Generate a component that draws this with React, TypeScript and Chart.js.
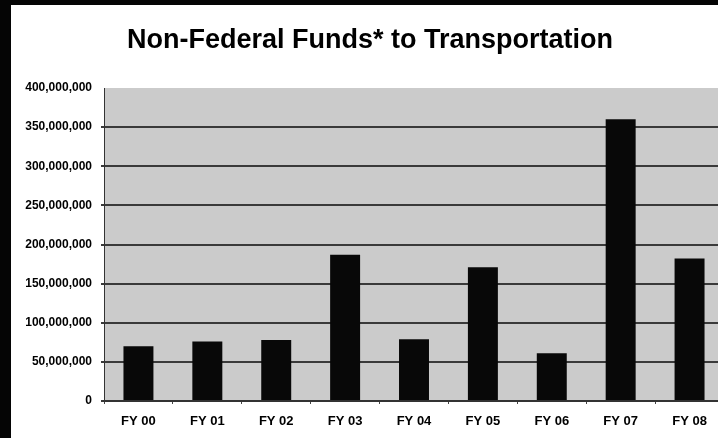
import React, { useEffect, useRef } from "react";
import { Chart, registerables } from "chart.js";

Chart.register(...registerables);

const categories = ["FY 00", "FY 01", "FY 02", "FY 03", "FY 04", "FY 05", "FY 06", "FY 07", "FY 08"];
const fundValues = [70000000, 76000000, 78000000, 187000000, 79000000, 171000000, 61000000, 360000000, 182000000];
const yMin = 0;
const yMax = 400000000;
const yStep = 50000000;
const titleText = "Non-Federal Funds* to Transportation";

const CANVAS_W = 740;
const CANVAS_H = 438;

const framePlugin = {
  id: "frame",
  beforeDraw(chart: any) {
    const { ctx, chartArea } = chart;
    ctx.save();
    ctx.fillStyle = "#ffffff";
    ctx.fillRect(0, 0, chart.width, chart.height);
    ctx.fillStyle = "#cbcbcb";
    ctx.fillRect(chartArea.left, chartArea.top, chartArea.right - chartArea.left, chartArea.bottom - chartArea.top);
    ctx.restore();
  },
  afterDraw(chart: any) {
    const { ctx } = chart;
    ctx.save();
    ctx.fillStyle = "#050505";
    ctx.fillRect(0, 0, 11, chart.height);
    ctx.fillRect(0, 0, chart.width, 5);
    ctx.fillStyle = "#000000";
    ctx.font = "bold 27px 'Liberation Sans', Arial, sans-serif";
    ctx.textAlign = "center";
    ctx.textBaseline = "middle";
    ctx.fillText(titleText, 370, 41);
    ctx.restore();
  },
};

export default function App() {
  const ref = useRef<HTMLCanvasElement | null>(null);

  useEffect(() => {
    if (!ref.current) return;
    const chart = new Chart(ref.current, {
      type: "bar",
      data: {
        labels: categories,
        datasets: [
          {
            data: fundValues,
            backgroundColor: "#080808",
            borderWidth: 0,
            categoryPercentage: 1,
            barPercentage: 0.435,
          },
        ],
      },
      options: {
        responsive: false,
        animation: false,
        events: [],
        layout: { padding: { left: 0, right: 16, top: 88, bottom: 0 } },
        plugins: {
          legend: { display: false },
          title: { display: false },
          tooltip: { enabled: false },
        },
        scales: {
          x: {
            grid: { drawOnChartArea: false, drawTicks: true, tickLength: 3, color: "#444", lineWidth: 1 },
            border: { display: true, color: "#333", width: 2 },
            ticks: {
              color: "#000",
              padding: 10,
              font: { family: "'Liberation Sans', Arial, sans-serif", size: 13, weight: "bold" },
              maxRotation: 0,
            },
            afterFit(scale: any) {
              scale.height = 37;
            },
          },
          y: {
            min: yMin,
            max: yMax,
            ticks: {
              stepSize: yStep,
              color: "#000",
              padding: 9,
              font: { family: "'Liberation Sans', Arial, sans-serif", size: 12, weight: "bold" },
              callback: (v: any) => Number(v).toLocaleString("en-US"),
            },
            grid: {
              color: (c: any) => (c.tick && c.tick.value === yMax ? "rgba(0,0,0,0)" : "#3a3a3a"),
              lineWidth: 2,
              tickLength: 3,
            },
            border: { display: true, color: "#333", width: 1 },
            afterFit(scale: any) {
              scale.width = 104;
            },
          },
        },
      },
      plugins: [framePlugin],
    });
    return () => chart.destroy();
  }, []);

  return (
    <div style={{ position: "absolute", left: 0, top: 0, width: 718, height: 438, overflow: "hidden", background: "#fff" }}>
      <canvas ref={ref} width={CANVAS_W} height={CANVAS_H} style={{ width: CANVAS_W, height: CANVAS_H, display: "block" }} />
    </div>
  );
}
